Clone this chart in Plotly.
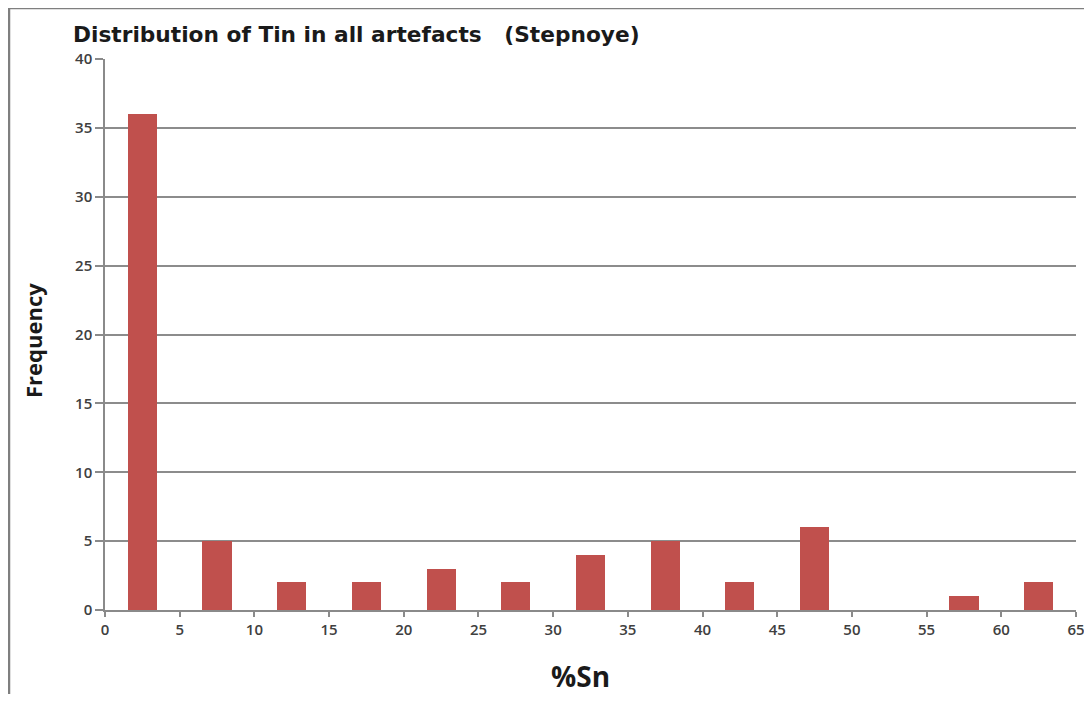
import plotly.graph_objects as go

# Data
bin_centers = [2.5, 7.5, 12.5, 17.5, 22.5, 27.5, 32.5, 37.5, 42.5, 47.5, 52.5, 57.5, 62.5]
frequency = [36, 5, 2, 2, 3, 2, 4, 5, 2, 6, 0, 1, 2]
x_ticks = [0, 5, 10, 15, 20, 25, 30, 35, 40, 45, 50, 55, 60, 65]
y_ticks = [0, 5, 10, 15, 20, 25, 30, 35, 40]

title_text = "Distribution of Tin in all artefacts   (Stepnoye)"
x_title = "%Sn"
y_title = "Frequency"

OFF = 8  # page body margin
W, H = 1076, 686
L, R, T, B = 97, 8, 51, 84
pw = W - L - R
ph = H - T - B

def px_x(px):
    return (px - OFF - L) / pw

def px_y(py):
    return (H - B - (py - OFF)) / ph

fig = go.Figure()
fig.add_trace(go.Bar(
    x=bin_centers, y=frequency, width=1.95,
    marker=dict(color="#C0504D", line=dict(width=0)),
    showlegend=False,
))

font_family = "Open Sans, Lato, sans-serif"
title_family = "DejaVu Sans, Open Sans, sans-serif"
axis_col = "#8A8A8A"

fig.update_layout(
    width=W, height=H,
    margin=dict(l=L, r=R, t=T, b=B, autoexpand=False),
    paper_bgcolor="white", plot_bgcolor="white",
    bargap=0,
    xaxis=dict(
        range=[0, 65], tickmode="array", tickvals=x_ticks,
        ticks="outside", ticklen=5, tickwidth=1.5, tickcolor=axis_col,
        showline=True, linecolor=axis_col, linewidth=1.5,
        showgrid=False, zeroline=False, ticklabeloverflow="allow",
        automargin=False,
        tickfont=dict(family=font_family, size=15, color="#404040", weight=600),
        fixedrange=True,
    ),
    yaxis=dict(
        range=[0, 40], tickmode="array", tickvals=y_ticks,
        ticks="outside", ticklen=8, tickwidth=1.5, tickcolor=axis_col,
        showline=True, linecolor=axis_col, linewidth=1.5,
        showgrid=True, gridcolor="#8C8C8C", gridwidth=1.5,
        zeroline=False, automargin=False,
        tickfont=dict(family=font_family, size=15, color="#404040", weight=600),
        fixedrange=True,
    ),
    annotations=[
        dict(text=title_text, xref="paper", yref="paper",
             x=px_x(71), y=px_y(34), xanchor="left", yanchor="middle",
             showarrow=False,
             font=dict(family=title_family, size=21.7, color="#1a1a1a", weight="bold")),
        dict(text=y_title, xref="paper", yref="paper",
             x=px_x(33), y=px_y(341), xanchor="center", yanchor="middle",
             textangle=-90, showarrow=False,
             font=dict(family=font_family, size=22, color="#1a1a1a", weight="bold")),
        dict(text=x_title, xref="paper", yref="paper",
             x=px_x(580), y=px_y(676), xanchor="center", yanchor="middle",
             showarrow=False,
             font=dict(family=font_family, size=28, color="#1a1a1a", weight="bold")),
    ],
    shapes=[
        dict(type="line", xref="paper", yref="paper",
             x0=px_x(9), x1=px_x(9), y0=px_y(720), y1=px_y(8),
             line=dict(color="#7F7F7F", width=2.5)),
        dict(type="line", xref="paper", yref="paper",
             x0=px_x(9), x1=px_x(1084), y0=px_y(8), y1=px_y(8),
             line=dict(color="#7F7F7F", width=2.5)),
    ],
)

fig.write_html("out.html")
